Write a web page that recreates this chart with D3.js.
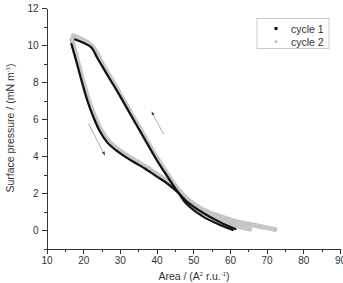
<!DOCTYPE html>
<html>
<head>
<meta charset="utf-8">
<title>Isotherm cycles</title>
<style>
body { margin: 0; background: #fff; }
text { font-family: "Liberation Sans", Arial, sans-serif; fill: #333; }
.axis path, .axis line { stroke: #333; stroke-width: 1px; shape-rendering: crispEdges; }
.curve { fill: none; stroke-linejoin: round; stroke-linecap: round; }
</style>
<script src="https://d3js.org/d3.v7.min.js"></script>
</head>
<body>
<script>
// cycle 1, compression then expansion (area, pressure)
var c1Comp = [[60.8,0],[57.3,0.27],[52.7,0.72],[48.2,1.4],[46,2.0],[44,2.58],[42,3.18],[40,3.8],
  [36.4,5.04],[32.75,6.3],[30.9,6.95],[29.1,7.57],[27.3,8.15],[25.5,8.75],[23.7,9.35],[22.3,9.85],[20,10.12],[17.8,10.3]];
var c1Exp = [[16.8,10.05],[18.3,9.0],[19.8,7.9],[21.3,6.9],[22.8,6.1],[24.5,5.35],[26.5,4.75],[29,4.3],
  [31.5,3.95],[34,3.65],[37,3.3],[40,2.9],[43,2.5],[46,2.0],[48.2,1.55],[52.7,0.92],[57.3,0.42],[61.5,0.05]];
// cycle 2
var c2Comp = [[72.3,0.03],[70.9,0.09],[66,0.28],[61.8,0.45],[57,0.75],[52.7,1.08],[49,1.55],[46.2,2.1],[44,2.7],
  [42,3.3],[40,3.92],[36.4,5.15],[32.75,6.4],[29.1,7.67],[25.5,8.88],[22.3,9.97],[20,10.27],[17.3,10.5]];
var c2Exp = [[16.9,10.3],[18.5,9.1],[20,8.0],[21.5,7.0],[23,6.2],[24.7,5.45],[26.7,4.85],[29.2,4.4],[31.7,4.05],
  [34.2,3.75],[37.2,3.4],[40.2,3.0],[43.2,2.6],[46,2.15],[48.2,1.65],[52.7,1.0],[57.3,0.55],[61,0.28],[65.4,0.05]];

var xTicks = [10,20,30,40,50,60,70,80,90];
var yTicks = [0,2,4,6,8,10,12];
var legendNames = ["cycle 1","cycle 2"];
var arrows = [[[21.4,5.76],[25.9,4.05]], [[42.0,5.14],[38.7,6.39]]];

var width = 343, height = 283;
var svg = d3.select("body").append("svg").attr("width", width).attr("height", height);

var x = d3.scaleLinear().domain([10,90]).range([46.5,340]);
var y = d3.scaleLinear().domain([-1,12]).range([248.5,8]);

// minor ticks
var xMinor = d3.range(15,90,10), yMinor = d3.range(-1,12,2);

svg.append("g").attr("class","axis").attr("transform","translate(0,248.5)")
  .call(d3.axisBottom(x).tickValues(xMinor).tickSize(3).tickFormat(""))
  .select(".domain").remove();
svg.append("g").attr("class","axis").attr("transform","translate(46.5,0)")
  .call(d3.axisLeft(y).tickValues(yMinor).tickSize(3).tickFormat(""))
  .select(".domain").remove();

var xa = svg.append("g").attr("class","axis").attr("transform","translate(0,248.5)")
  .call(d3.axisBottom(x).tickValues(xTicks).tickSize(5).tickSizeOuter(0).tickPadding(3));
xa.selectAll("text").style("font-size","10px").attr("fill","#444");
var ya = svg.append("g").attr("class","axis").attr("transform","translate(46.5,0)")
  .call(d3.axisLeft(y).tickValues(yTicks).tickSize(5).tickSizeOuter(0).tickPadding(3));
ya.selectAll("text").style("font-size","10px").attr("fill","#444");

var line = d3.line().x(function(d){ return x(d[0]); }).y(function(d){ return y(d[1]); }).curve(d3.curveCatmullRom);

[c2Comp, c2Exp].forEach(function(s){
  svg.append("path").attr("class","curve").attr("d", line(s)).attr("stroke","#c6c6c6").attr("stroke-width",5);
});
[c1Comp, c1Exp].forEach(function(s){
  svg.append("path").attr("class","curve").attr("d", line(s)).attr("stroke","#111").attr("stroke-width",2.2);
});

// arrows
svg.append("defs").append("marker").attr("id","ah").attr("viewBox","0 0 10 10")
  .attr("refX",9).attr("refY",5).attr("markerWidth",5).attr("markerHeight",5).attr("orient","auto")
  .append("path").attr("d","M0,1L10,5L0,9Z").attr("fill","#444");
arrows.forEach(function(a){
  svg.append("line").attr("x1",x(a[0][0])).attr("y1",y(a[0][1])).attr("x2",x(a[1][0])).attr("y2",y(a[1][1]))
    .attr("stroke","#999").attr("stroke-width",0.8).attr("marker-end","url(#ah)");
});

// legend
var lg = svg.append("g");
lg.append("rect").attr("x",257).attr("y",18.5).attr("width",72).attr("height",30)
  .attr("fill","#fff").attr("stroke","#bbb").attr("stroke-width",0.8);
lg.append("rect").attr("x",274.5).attr("y",27).attr("width",3).attr("height",3).attr("fill","#111");
lg.append("circle").attr("cx",276).attr("cy",41.5).attr("r",1.6).attr("fill","#c6c6c6");
legendNames.forEach(function(n,i){
  lg.append("text").attr("x",291).attr("y",32.5+i*13.5).style("font-size","10.5px").text(n);
});

// axis titles
var xt = svg.append("text").attr("x",194).attr("y",280).attr("text-anchor","middle").style("font-size","10.5px");
xt.append("tspan").text("Area  / (A");
xt.append("tspan").attr("dy",-4).style("font-size","6px").text("2");
xt.append("tspan").attr("dy",4).text(" r.u.");
xt.append("tspan").attr("dy",-4).style("font-size","6px").text("-1");
xt.append("tspan").attr("dy",4).text(")");

var yt = svg.append("text").attr("transform","translate(14,128) rotate(-90)").attr("text-anchor","middle").style("font-size","10.5px");
yt.append("tspan").text("Surface pressure / (mN m");
yt.append("tspan").attr("dy",-4).style("font-size","6px").text("-1");
yt.append("tspan").attr("dy",4).text(")");
</script>
</body>
</html>
